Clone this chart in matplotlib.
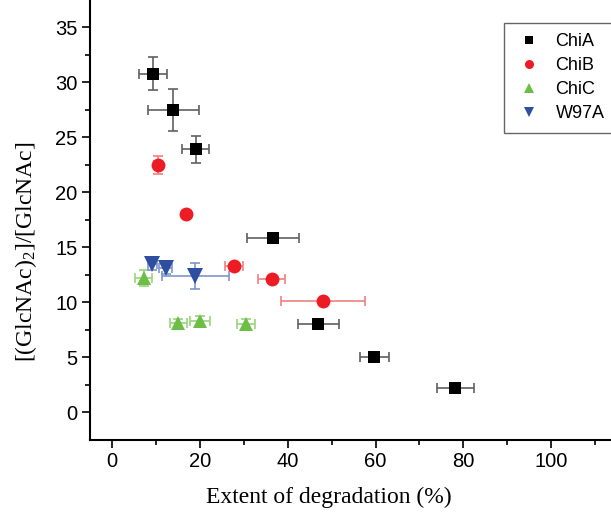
import numpy as np
import matplotlib
matplotlib.use("Agg")
import matplotlib.pyplot as plt

plt.rcParams['font.family'] = ['Liberation Sans', 'DejaVu Sans']
plt.rcParams['mathtext.fontset'] = 'custom'
plt.rcParams['mathtext.rm'] = 'Liberation Serif'
plt.rcParams['mathtext.it'] = 'Liberation Serif:italic'

# ChiA
chia_x = [9.3, 14.0, 19.1, 36.6, 47.0, 59.7, 78.1]
chia_y = [30.8, 27.5, 23.9, 15.8, 8.0, 5.0, 2.2]
chia_xerr = [3.2, 5.7, 3.1, 5.9, 4.7, 3.3, 4.2]
chia_yerr = [1.5, 1.9, 1.2, 0.0, 0.0, 0.0, 0.0]

# ChiB
chib_x = [10.4, 16.9, 27.8, 36.4, 48.1]
chib_y = [22.5, 18.0, 13.3, 12.1, 10.1]
chib_xerr = [0.8, 0.0, 2.0, 3.1, 9.6]
chib_yerr = [0.8, 0.0, 0.0, 0.0, 0.0]

# ChiC
chic_x = [7.2, 15.1, 20.0, 30.5]
chic_y = [12.2, 8.1, 8.3, 8.0]
chic_xerr = [2.0, 1.9, 2.3, 2.0]
chic_yerr = [0.7, 0.4, 0.4, 0.5]

# W97A
w97a_x = [9.2, 12.2, 19.0]
w97a_y = [13.5, 13.1, 12.4]
w97a_xerr = [1.0, 1.5, 7.6]
w97a_yerr = [0.6, 0.5, 1.2]

series = [
    ("ChiA", chia_x, chia_y, chia_xerr, chia_yerr, 's', 9, 'black', '#606060'),
    ("ChiB", chib_x, chib_y, chib_xerr, chib_yerr, 'o', 10, '#ED1C24', '#F08080'),
    ("ChiC", chic_x, chic_y, chic_xerr, chic_yerr, '^', 10.5, '#6DBE45', '#9AD47A'),
    ("W97A", w97a_x, w97a_y, w97a_xerr, w97a_yerr, 'v', 11, '#2E4FA0', '#7F95CC'),
]

fig = plt.figure(figsize=(6.11, 5.15), dpi=100)
ax = fig.add_axes([90 / 611, 1 - 439.5 / 515, 1 - 90 / 611, 439.5 / 515])

handles = []
for name, x, y, xe, ye, mk, ms, col, ecol in series:
    ax.errorbar(x, y, xerr=xe, yerr=ye, fmt='none', ecolor=ecol,
                elinewidth=1.2, capsize=3.5, capthick=1.2, zorder=2)
    h, = ax.plot(x, y, linestyle='none', marker=mk, markersize=ms,
                 color=col, markeredgewidth=0, label=name, zorder=3)
    handles.append(h)

ax.set_xlim(-5, 113.6)
ax.set_ylim(-2.5, 37.5)
ax.set_xticks([0, 20, 40, 60, 80, 100])
ax.set_xticks(np.arange(10, 111, 20), minor=True)
ax.set_yticks(np.arange(0, 36, 5))
ax.set_yticks(np.arange(2.5, 36, 5), minor=True)

ax.spines['top'].set_visible(False)
ax.spines['right'].set_visible(False)
ax.spines['left'].set_linewidth(1.5)
ax.spines['bottom'].set_linewidth(1.5)
ax.tick_params(which='major', direction='out', length=6, width=1.2,
               labelsize=14.5, pad=3)
ax.tick_params(which='minor', direction='out', length=3.5, width=1.2)

ax.set_xlabel('Extent of degradation (%)', family='Liberation Serif', fontsize=17)
ax.set_ylabel(r'[(GlcNAc)$_2$]/[GlcNAc]', family='Liberation Serif', fontsize=17)
ax.xaxis.set_label_coords(0.459, -0.108)
ax.yaxis.set_label_coords(-0.098, 0.427)

leg = fig.legend(handles=handles, loc='upper left',
                 bbox_to_anchor=(504 / 611, 1 - 22.5 / 515),
                 fontsize=13, markerscale=0.65, frameon=True, fancybox=False,
                 edgecolor='#404040', borderaxespad=0, handletextpad=0.7,
                 labelspacing=0.38, borderpad=0.6, handlelength=1.55)
leg.get_frame().set_linewidth(1.0)

fig.savefig('out.png', dpi=100)
